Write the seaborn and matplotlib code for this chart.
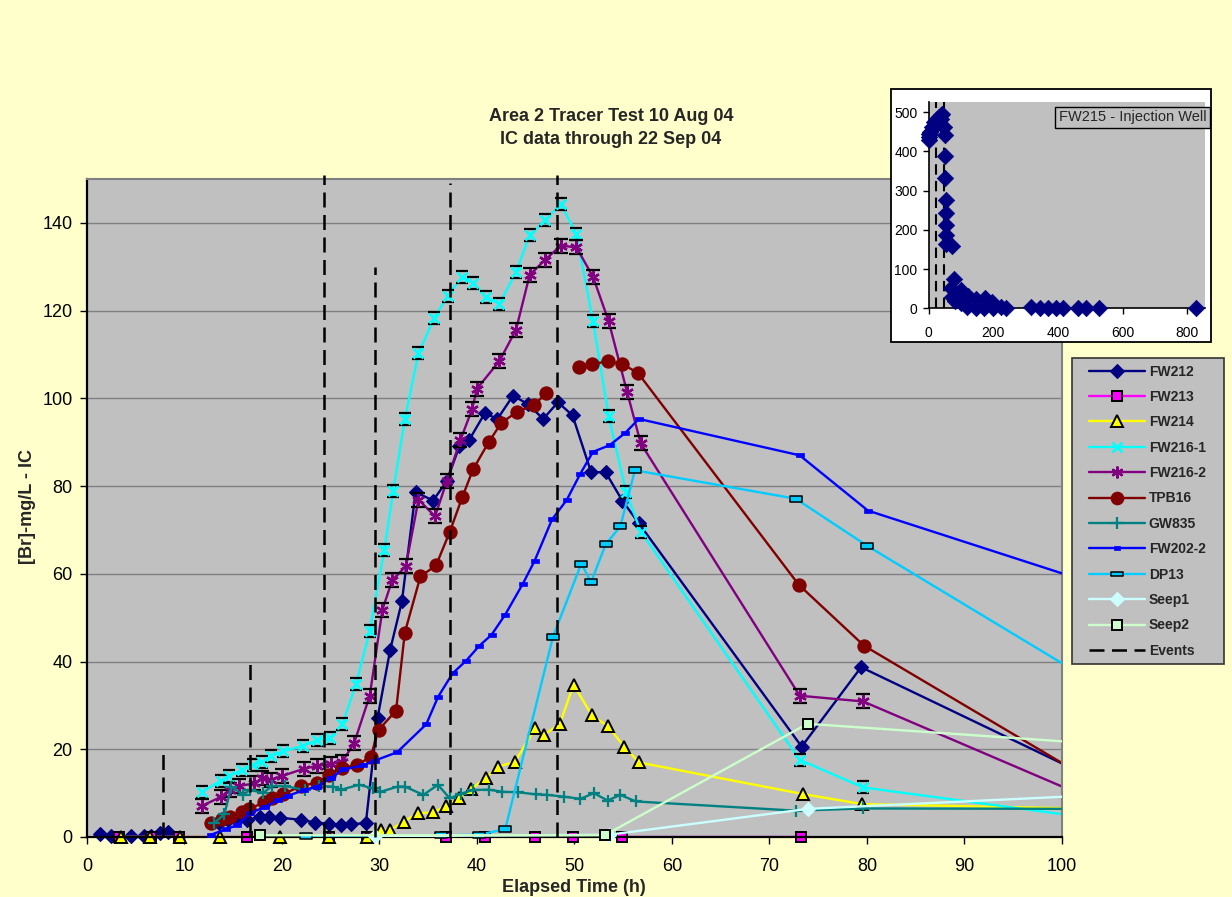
import numpy as np
import pandas as pd
import matplotlib
matplotlib.use("Agg")
import matplotlib.pyplot as plt
import seaborn as sns
from matplotlib.path import Path
from matplotlib.lines import Line2D
from matplotlib.patches import Rectangle

sns.set_theme(style="white")
plt.rcParams["font.family"] = ["Liberation Sans", "DejaVu Sans"]

nan = np.nan

# ---- main chart: bromide concentration [mg/L] versus elapsed time [h] ----
fw212_t = [1.3, 2.5, 4.5, 5.8, 6.6, 7.5, 8.3, nan,
           13.5, 14.5, 15.5, 16.4, 17.7, 18.7, 19.8, 22.0, 23.4, 24.8, 26.1, 27.1, 28.6,
           29.8, 31.1, 32.3, 33.7, 35.5, 36.9, 38.2, 39.2, 40.8, 42.1, 43.7, 45.2, 46.8,
           48.3, 49.8, 51.7, 53.2, 54.9, 56.6, 73.3, 79.4, 104]
fw212_c = [0.6, 0.2, 0.2, 0.2, 0.3, 0.9, 1.1, nan,
           3.2, 3.9, 4.1, 3.9, 4.5, 4.6, 4.4, 3.9, 3.3, 3.0, 2.7, 3.0, 3.1,
           27.1, 42.7, 53.7, 78.6, 76.7, 81.1, 89.1, 90.5, 96.6, 95.3, 100.6, 98.7, 95.3,
           99.1, 96.1, 83.2, 83.1, 76.7, 71.5, 20.6, 38.7, 12.5]

fw213_t = [3.3, 6.6, 9.4, 16.4, 24.8, 28.7, 36.8, 40.8, 45.9, 49.8, 54.9, 73.2]
fw213_c = [0.0, 0.0, 0.0, 0.0, 0.0, 0.0, 0.0, 0.0, 0.0, 0.0, 0.0, 0.0]

fw214_t = [3.5, 6.5, 9.5, 13.6, 19.8, 24.8, 28.7,
           30.2, 31.1, 32.5, 33.9, 35.5, 36.8, 38.2, 39.4, 40.9, 42.2, 43.9, 46.0, 46.9,
           48.5, 49.9, 51.8, 53.4, 55.1, 56.6, 73.4, 79.5, 106]
fw214_c = [0.0, 0.0, 0.0, 0.0, 0.0, 0.0, 0.0,
           1.6, 1.6, 3.5, 5.4, 5.6, 7.1, 8.9, 10.9, 13.5, 16.0, 17.2, 24.8, 23.3,
           25.8, 34.7, 27.7, 25.3, 20.6, 17.0, 9.8, 7.5, 6.3]

fw216_1_t = [11.8, 13.7, 14.6, 15.9, 17.0, 18.0, 18.9, 20.1, 22.2, 23.6, 24.9, 26.2, 27.6,
             29.0, 30.5, 31.4, 32.6, 34.0, 35.6, 37.0, 38.5, 39.6, 40.9, 42.3, 44.0, 45.4,
             47.0, 48.6, 50.2, 51.9, 53.5, 55.3, 56.8, 73.1, 79.6, 104]
fw216_1_c = [10.3, 12.8, 13.9, 15.3, 16.4, 17.2, 18.5, 19.5, 20.8, 22.1, 22.5, 25.7, 34.9,
             46.9, 65.5, 78.8, 95.2, 110.3, 118.2, 123.4, 127.7, 126.3, 123.2, 121.5, 128.7, 137.2,
             140.6, 144.3, 137.4, 117.6, 96.0, 78.6, 69.6, 17.6, 11.3, 4.0]

fw216_2_t = [11.8, 13.7, 14.7, 15.6, 17.1, 18.0, 18.9, 20.0, 22.3, 23.6, 25.0, 26.2, 27.4,
             29.0, 30.3, 31.3, 32.7, 34.0, 35.7, 36.9, 38.3, 39.5, 40.0, 42.3, 44.0, 45.4,
             47.0, 48.6, 50.2, 51.9, 53.5, 55.4, 56.8, 73.1, 79.6, 106]
fw216_2_c = [7.1, 9.1, 10.8, 11.6, 12.2, 13.4, 13.1, 13.9, 15.6, 16.2, 16.6, 17.2, 21.4,
             32.2, 51.8, 58.5, 61.7, 76.9, 73.1, 81.1, 90.5, 97.5, 102.2, 108.5, 115.6, 128.1,
             131.6, 134.8, 134.4, 127.7, 117.6, 101.4, 89.7, 32.2, 30.9, 5.8]

tpb16_t = [12.7, 13.8, 14.7, 15.9, 16.6, 18.2, 19.0, 20.1, 21.9, 23.6, 24.8, 26.2, 27.7,
           29.1, 29.9, 31.7, 32.6, 34.2, 35.8, 37.2, 38.5, 39.6, 41.2, 42.5, 44.1, 45.8,
           47.1, nan, 50.5, 51.8, 53.4, 54.9, 56.5, 73.0, 79.7, 104]
tpb16_c = [3.3, 4.0, 4.6, 5.6, 6.4, 7.9, 8.8, 9.7, 11.6, 12.4, 14.1, 15.8, 16.4,
           18.3, 24.4, 28.8, 46.6, 59.4, 61.9, 69.5, 77.5, 83.8, 90.0, 94.4, 96.9, 98.4,
           101.1, nan, 107.1, 107.8, 108.4, 107.8, 105.8, 57.5, 43.6, 11.6]

gw835_t = [13.0, 14.1, 14.8, 16.0, 16.7, 18.1, 19.0, 20.3, 22.4, 23.8, 25.2, 26.1, 27.9,
           29.3, 30.1, 31.9, 32.6, 34.5, 36.0, 37.2, 38.4, 39.6, 41.2, 42.6, 44.2, 46.1,
           47.2, 48.9, 50.6, 52.0, 53.4, 54.7, 56.3, 72.7, 79.6, 106]
gw835_c = [3.1, 5.2, 11.5, 9.6, 10.7, 10.1, 11.6, 11.6, 10.7, 11.6, 11.5, 10.8, 11.9,
           11.1, 10.3, 11.5, 11.5, 9.6, 11.9, 8.8, 9.9, 10.7, 10.8, 10.3, 10.2, 9.7,
           9.6, 9.2, 8.7, 10.0, 8.3, 9.6, 8.1, 6.0, 6.5, 6.4]

fw202_2_t = [12.7, 14.3, 15.4, 16.7, 18.3, 19.6, 20.6, 22.3, 23.6, 25.0, 26.3, 28.3, 29.5,
             31.8, 34.8, 36.0, 37.5, 38.9, 40.2, 41.5, 42.9, 44.7, 45.9, 47.7, 49.2, 50.6,
             51.9, 53.6, 55.2, 56.6, 73.1, 80.1, 105]
fw202_2_c = [0.5, 1.8, 2.7, 5.4, 6.9, 8.4, 9.4, 10.7, 11.5, 13.4, 15.4, 16.3, 17.4,
             19.3, 25.7, 31.9, 37.3, 40.2, 43.5, 46.1, 50.7, 57.7, 62.9, 72.4, 76.8, 82.8,
             87.8, 89.3, 92.1, 95.3, 87.0, 74.4, 56.5]

dp13_t = [22.5, 36.3, 40.2, 42.9, 47.8, 50.7, 51.7, 53.2, 54.7, 56.2, 72.7, 80.0, 105]
dp13_c = [0.3, 0.4, 0.5, 1.8, 45.7, 62.3, 58.1, 66.7, 70.8, 83.6, 77.1, 66.4, 32.9]

seep1_t = [29.5, 53.5, 73.9, 106]
seep1_c = [0.2, 0.5, 6.4, 9.8]

seep2_t = [17.7, 53.1, 73.9, 106]
seep2_c = [0.4, 0.4, 25.8, 20.9]

# field events (time [h], drawn height on the concentration axis)
event_t = [7.8, 16.7, 24.3, 29.5, 37.2, 48.2]
event_h = [20, 40, 151, 130, 149, 151]

# ---- inset: injection well FW215 ----
fw215_t = [0, 0, 0, 4, 10, 18, 25, 31, 38, 38, 43, 31, 18, 49, 52, 51, 51, 54, 54, 54,
           54, 54, 72, 79, 69, 100, 72, 82, 121, 100, 147, 175, 196, 118, 147, 172, 198, 224,
           241, 317, 345, 370, 394, 415, 461, 487, 528, 826]
fw215_c = [445, 437, 430, 449, 462, 475, 483, 488, 492, 483, 496, 475, 462, 462, 443, 388,
           333, 277, 242, 212, 187, 165, 159, 75, 51, 47, 28, 19, 31, 13, 24, 25, 17, 4,
           0, 0, 2, 4, 2, 4, 2, 2, 2, 2, 2, 2, 2, 0]
inset_events = [24.3, 48.2]

series_names = ["FW212", "FW213", "FW214", "FW216-1", "FW216-2", "TPB16", "GW835",
                "FW202-2", "DP13", "Seep1", "Seep2"]

# ---- styling ----
PAGE = "#ffffcc"
PLOT = "#c0c0c0"
GRID = "#808080"

# custom marker shapes
bars = Path([(-0.5, 0.5), (0.5, 0.5), (-0.5, -0.5), (0.5, -0.5)],
            [Path.MOVETO, Path.LINETO, Path.MOVETO, Path.LINETO])
flat_rect = Path([(-0.5, -0.22), (0.5, -0.22), (0.5, 0.22), (-0.5, 0.22), (-0.5, -0.22)],
                 [Path.MOVETO, Path.LINETO, Path.LINETO, Path.LINETO, Path.CLOSEPOLY])
asterisk = (6, 2, 0)

styles = {
    "FW212":   dict(color="#000080", marker="D", ms=7.5, mfc="#000080", mec="#000080", mew=0.8),
    "FW213":   dict(color="#ff00ff", marker="s", ms=7.5, mfc="#ff00ff", mec="black", mew=1.4),
    "FW214":   dict(color="#ffff00", marker="^", ms=8.5, mfc="#ffff00", mec="black", mew=1.4),
    "FW216-1": dict(color="#00ffff", marker="x", ms=7.5, mfc="#00ffff", mec="#00ffff", mew=1.9),
    "FW216-2": dict(color="#800080", marker=asterisk, ms=9, mfc="#800080", mec="#800080", mew=1.7),
    "TPB16":   dict(color="#800000", marker="o", ms=9.5, mfc="#800000", mec="#800000", mew=0.8),
    "GW835":   dict(color="#008080", marker="+", ms=9, mfc="#008080", mec="#008080", mew=1.6),
    "FW202-2": dict(color="#0000ff", marker=flat_rect, ms=5.5, mfc="#0000ff", mec="#0000ff", mew=0.5),
    "DP13":    dict(color="#00ccff", marker=flat_rect, ms=8.5, mfc="#00ccff", mec="black", mew=1.1),
    "Seep1":   dict(color="#ccffff", marker="D", ms=7.5, mfc="#ccffff", mec="#ccffff", mew=0.8),
    "Seep2":   dict(color="#ccffcc", marker="s", ms=7.5, mfc="#ccffcc", mec="black", mew=1.4),
}
series_data = {
    "FW212": (fw212_t, fw212_c), "FW213": (fw213_t, fw213_c), "FW214": (fw214_t, fw214_c),
    "FW216-1": (fw216_1_t, fw216_1_c), "FW216-2": (fw216_2_t, fw216_2_c),
    "TPB16": (tpb16_t, tpb16_c), "GW835": (gw835_t, gw835_c),
    "FW202-2": (fw202_2_t, fw202_2_c), "DP13": (dp13_t, dp13_c),
    "Seep1": (seep1_t, seep1_c), "Seep2": (seep2_t, seep2_c),
}
barred = {"FW216-1", "FW216-2"}

X_MAX = 100
Y_MAX = 150


def to_frame(t, c):
    t = np.asarray(t, float)
    c = np.asarray(c, float)
    seg = np.cumsum(np.isnan(t))
    return pd.DataFrame({"t": t, "c": c, "seg": seg}).dropna()


fig = plt.figure(figsize=(12.32, 8.97), dpi=100, facecolor=PAGE)
ax = fig.add_axes([0.0706, 0.0669, 0.7914, 0.7336], facecolor=PLOT, zorder=0)

for i, name in enumerate(series_names):
    t, c = series_data[name]
    df = to_frame(t, c)
    shown = df[df["t"] <= X_MAX]
    st = styles[name]
    z = 2 + i * 0.1
    # connecting line, clipped to the plot area
    sns.lineplot(data=df, x="t", y="c", units="seg", estimator=None, sort=False, ax=ax,
                 color=st["color"], linewidth=1.7, legend=False, zorder=z)
    # markers, allowed to sit on the axis line
    if name in barred:
        sns.lineplot(data=shown, x="t", y="c", units="seg", estimator=None, sort=False, ax=ax,
                     color="black", linestyle="", marker=bars, markersize=st["ms"] + 0.5,
                     markeredgecolor="black", markeredgewidth=1.6, legend=False,
                     zorder=z + 0.02, clip_on=False)
    sns.lineplot(data=shown, x="t", y="c", units="seg", estimator=None, sort=False, ax=ax,
                 color=st["color"], linestyle="", marker=st["marker"], markersize=st["ms"],
                 markerfacecolor=st["mfc"], markeredgecolor=st["mec"],
                 markeredgewidth=st["mew"], legend=False, zorder=z + 0.05, clip_on=False)

ax.vlines(event_t, 0, event_h, colors="black", linestyles=(0, (6, 3)), linewidth=1.8,
          zorder=4, clip_on=False)

ax.set_xlim(0, X_MAX)
ax.set_ylim(0, Y_MAX)
ax.set_xticks(np.arange(0, 101, 10))
ax.set_yticks(np.arange(0, 141, 20))
ax.yaxis.grid(True, color=GRID, linewidth=1.0)
ax.xaxis.grid(False)
ax.set_axisbelow(True)
ax.set_xlabel("")
ax.set_ylabel("")
ax.tick_params(axis="both", direction="out", length=5, width=1, colors="black",
               labelsize=13, left=True, bottom=True)
ax.tick_params(axis="x", pad=10)
ax.tick_params(axis="y", pad=5.5)
for side in ("left", "bottom"):
    ax.spines[side].set_color("black")
    ax.spines[side].set_linewidth(1.6)
for side in ("top", "right"):
    ax.spines[side].set_color(GRID)
    ax.spines[side].set_linewidth(1.5)

fig.text(0.496, 1 - 116 / 897, "Area 2 Tracer Test 10 Aug 04", ha="center", va="center",
         fontsize=13, fontweight="bold")
fig.text(0.496, 1 - 139 / 897, "IC data through 22 Sep 04", ha="center", va="center",
         fontsize=13, fontweight="bold")
fig.text(27 / 1232, 1 - 507 / 897, "[Br]-mg/L - IC", rotation=90, ha="center", va="center",
         fontsize=13, fontweight="bold")
fig.text(574 / 1232, 1 - 887 / 897, "Elapsed Time (h)", ha="center", va="center",
         fontsize=13, fontweight="bold")

# legend: grey panel with the entries laid inside it
fig.add_artist(Rectangle((1071.5 / 1232, 1 - 664 / 897), (1224.3 - 1071.5) / 1232,
                         (664 - 358.3) / 897, transform=fig.transFigure, facecolor=PLOT,
                         edgecolor="#333333", linewidth=1.2, zorder=1))
handles = []
for name in series_names:
    st = styles[name]
    handles.append(Line2D([], [], color=st["color"], linewidth=1.7, marker=st["marker"],
                          markersize=st["ms"] - 0.5, markerfacecolor=st["mfc"],
                          markeredgecolor=st["mec"], markeredgewidth=st["mew"]))
handles.append(Line2D([], [], color="black", linewidth=1.8, linestyle=(0, (6, 3))))
leg = fig.legend(handles, series_names + ["Events"], loc="upper left",
                 bbox_to_anchor=(1089 / 1232, 1 - 364.5 / 897), bbox_transform=fig.transFigure,
                 frameon=False, prop={"weight": "bold", "size": 10}, handlelength=4.0,
                 handletextpad=0.3, labelspacing=0.82, borderpad=0, borderaxespad=0)
leg.set_zorder(2)

# inset panel with the injection well
fig.add_artist(Rectangle((891 / 1232, 1 - 342 / 897), (1211 - 891) / 1232, (342 - 89) / 897,
                         transform=fig.transFigure, facecolor="white", edgecolor="black",
                         linewidth=1.3, zorder=5))
ins = fig.add_axes([928.5 / 1232, 1 - 308.3 / 897, (1205 - 928.5) / 1232, (308.3 - 101.7) / 897],
                   facecolor=PLOT, zorder=6)
ins.vlines(inset_events, 0, 527, colors="black", linestyles=(0, (5, 3)), linewidth=1.5, zorder=1)
sns.scatterplot(x=fw215_t, y=fw215_c, ax=ins, marker="D", s=70, color="#000080",
                edgecolor="#000080", linewidth=0.5, legend=False, zorder=3, clip_on=False)
ins.set_xlim(0, 855)
ins.set_ylim(0, 527)
ins.set_xticks([0, 200, 400, 600, 800])
ins.set_yticks([0, 100, 200, 300, 400, 500])
ins.tick_params(axis="both", direction="out", length=4, width=1, colors="black",
                labelsize=10, left=True, bottom=True)
ins.tick_params(axis="x", pad=9)
ins.tick_params(axis="y", pad=4)
for side in ("left", "bottom"):
    ins.spines[side].set_color("black")
    ins.spines[side].set_linewidth(1.2)
for side in ("top", "right"):
    ins.spines[side].set_visible(False)
ins.grid(False)
ins.text(1.006, 0.958, "FW215 - Injection Well", transform=ins.transAxes, ha="right", va="top",
         fontsize=10.5, zorder=7, clip_on=False,
         bbox=dict(boxstyle="square,pad=0.25", facecolor=PLOT, edgecolor="black", linewidth=1.0))

fig.savefig("out.png", dpi=100, facecolor=PAGE)
